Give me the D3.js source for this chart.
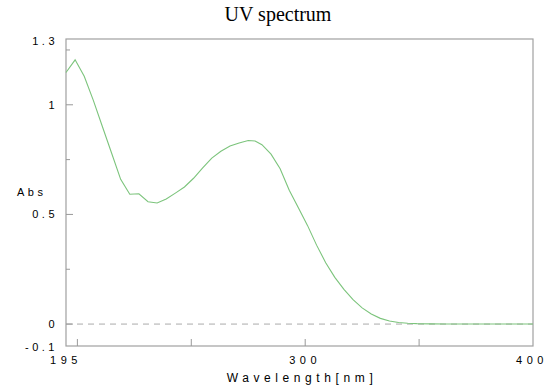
<!DOCTYPE html>
<meta charset="utf-8">
<style>
  body { margin: 0; background: #fff; }
  text { font-family: "Liberation Sans", Arial, sans-serif; }
</style>
<svg width="550" height="391"></svg>
<script src="https://d3js.org/d3.v7.min.js"></script>
<script>
// spectrum
const wavelength = [195, 199, 203, 207, 211, 215, 219, 223, 227, 231, 235, 239, 243, 247, 251, 255, 259, 263, 267, 271,
  275, 278, 281, 285, 289, 293, 297, 301, 305, 309, 313, 317, 321, 325, 329, 333, 337, 341, 345, 349, 355, 362, 400];
const absorbance = [1.147, 1.205, 1.13, 1.02, 0.90, 0.78, 0.66, 0.592, 0.594, 0.558, 0.552, 0.570, 0.597, 0.625, 0.665, 0.712, 0.757, 0.788, 0.812, 0.826,
  0.837, 0.835, 0.818, 0.775, 0.708, 0.61, 0.53, 0.45, 0.36, 0.28, 0.213, 0.158, 0.111, 0.074, 0.046, 0.026, 0.014, 0.007, 0.004, 0.002, 0.001, 0, 0];

const xTickLabels = [195, 300, 400];
const xTicks = [200, 250, 300, 350];
const yTickLabels = [1.3, 1, 0.5, 0, -0.1];
const yMajor = [1, 0.5, 0];
const yMinor = [1.25, 0.75, 0.25];

const margin = {top: 39, right: 17, bottom: 45, left: 66};
const width = 550, height = 391;

const x = d3.scaleLinear([195, 400], [margin.left, width - margin.right]);
const y = d3.scaleLinear([-0.1, 1.3], [height - margin.bottom, margin.top]);

const svg = d3.select("svg");

svg.append("text")
    .attr("x", 278).attr("y", 21)
    .attr("text-anchor", "middle")
    .style("font-family", "'Liberation Serif', 'Times New Roman', serif")
    .attr("font-size", 20)
    .text("UV spectrum");

// frame
svg.append("rect")
    .attr("x", x(195)).attr("y", y(1.3))
    .attr("width", x(400) - x(195)).attr("height", y(-0.1) - y(1.3))
    .attr("fill", "none").attr("stroke", "#a0a0a0").attr("stroke-width", 1.2);

// zero line
svg.append("line")
    .attr("x1", x(195)).attr("x2", x(400))
    .attr("y1", y(0)).attr("y2", y(0))
    .attr("stroke", "#aaa").attr("stroke-dasharray", "6,5");

// y ticks, inside
svg.append("g").selectAll("line")
  .data(yMajor.map(v => [v, 7]).concat(yMinor.map(v => [v, 4])))
  .join("line")
    .attr("x1", x(195)).attr("x2", d => x(195) + d[1])
    .attr("y1", d => y(d[0])).attr("y2", d => y(d[0]))
    .attr("stroke", "#999");

// x ticks, pointing up
svg.append("g").selectAll("line")
  .data(xTicks)
  .join("line")
    .attr("x1", d => x(d)).attr("x2", d => x(d))
    .attr("y1", y(-0.1)).attr("y2", y(-0.1) - 7)
    .attr("stroke", "#999");

svg.append("g")
    .attr("font-size", 11)
    .attr("letter-spacing", 3.5)
    .attr("text-anchor", "end")
  .selectAll("text")
  .data(yTickLabels)
  .join("text")
    .attr("x", 58)
    .attr("y", d => d === 1.3 ? y(d) + 2 : d === -0.1 ? y(d) + 1 : y(d))
    .attr("dy", "0.35em")
    .text(d => d);

svg.append("g")
    .attr("font-size", 11)
    .attr("letter-spacing", 4.5)
    .attr("text-anchor", "middle")
  .selectAll("text")
  .data(xTickLabels)
  .join("text")
    .attr("x", d => d === 400 ? x(d) - 1 : x(d))
    .attr("y", 360)
    .attr("dy", "0.35em")
    .text(d => d);

svg.append("text")
    .attr("x", 302).attr("y", 378)
    .attr("dy", "0.35em")
    .attr("text-anchor", "middle")
    .attr("font-size", 12)
    .attr("letter-spacing", 4.6)
    .text("Wavelength[nm]");

svg.append("text")
    .attr("x", 17).attr("y", 192)
    .attr("dy", "0.35em")
    .attr("font-size", 11)
    .attr("letter-spacing", 3.5)
    .text("Abs");

const line = d3.line()
    .x((d, i) => x(wavelength[i]))
    .y(d => y(d));

svg.append("path")
    .datum(absorbance)
    .attr("fill", "none")
    .attr("stroke", "#7cc47c")
    .attr("stroke-width", 1.1)
    .attr("d", line);
</script>
